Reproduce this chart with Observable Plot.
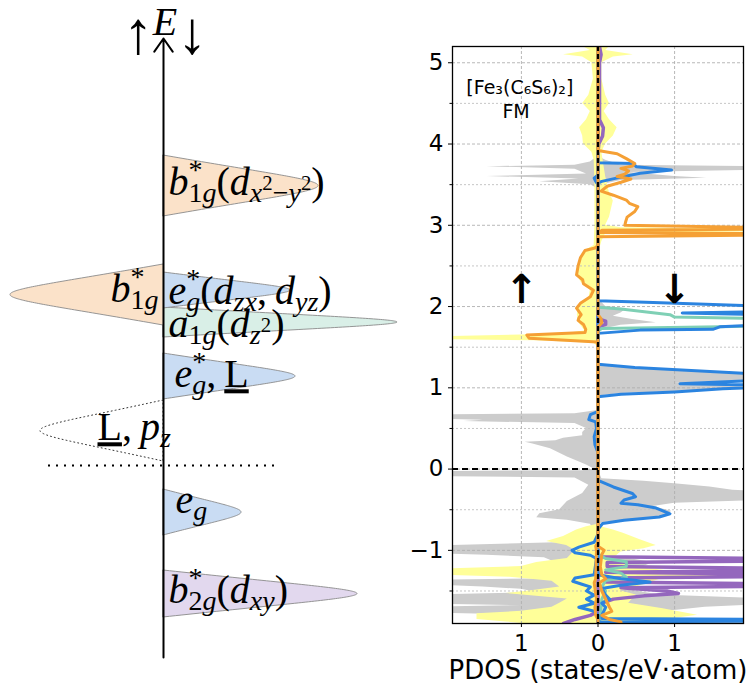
<!DOCTYPE html>
<html><head><meta charset="utf-8">
<script src="https://cdn.jsdelivr.net/npm/d3@7"></script>
<script src="https://cdn.jsdelivr.net/npm/@observablehq/plot@0.6"></script>
<style>
body{margin:0;background:#fff;}
#wrap{position:relative;width:748px;height:690px;overflow:hidden;}
#wrap svg{position:absolute;top:0;}
</style></head><body><div id="wrap"></div>
<script>
// ---------------- Left schematic: energy-level lobes ----------------
const lobeNames   = ["b2g*(dxy)", "eg", "L,pz", "eg*,L", "a1g(dz2)", "eg*(dzx,dyz)", "b1g* up", "b1g*(dx2-y2)"];
const lobeKinds   = ["b2g", "eg", "L", "eg", "a1g", "eg", "b1g", "b1g"];
const lobeCenter  = [-1.285, -0.47, 0.345, 0.89, 1.43, 1.75, 1.705, 2.795];
const lobeHalf    = [0.235, 0.23, 0.305, 0.23, 0.15, 0.18, 0.305, 0.305];
const lobeExtent  = [1.94, 0.78, -1.23, 1.32, 2.34, 1.27, -1.53, 1.55];
const axisEnds    = [-1.92, 4.27];
const fermiSpan   = [-1.15, 1.16];

const headLabels = ["↑", "E", "↓"];
const headX      = [-0.255, 0.015, 0.285];
const headE      = [4.25, 4.43, 4.25];
const headSize   = [60, 40, 60];

const levelLabels = ["b^*_{1g}(d_{x^2−y^2})", "b^*_{1g}", "e^*_g(d_{zx},\u2009d_{yz})", "a_{1g}(d_{z^2})",
                     "e^*_g,\u2009\\L", "\\L,\u2009p_z", "e_g", "b^*_{2g}(d_{xy})"];
const levelX      = [0.05, -0.53, 0.05, 0.05, 0.11, -0.66, 0.12, 0.05];
const levelE      = [2.83, 1.76, 1.74, 1.41, 0.91, 0.38, -0.35, -1.25];

// ---------------- Right: PDOS, [E (eV), states/eV·atom] ----------------
const grayUp = [[5.2,0],[3.85,0],[3.78,0.1],[3.74,0.3],[3.72,1.45],[3.69,0.3],[3.63,0.15],[3.6,1.45],[3.57,0.25],[3.535,0.76],[3.5,0.1],[3.45,0],
 [0.72,0],[0.68,0.3],[0.665,2.3],[0.62,2.3],[0.60,1.5],[0.585,1.75],[0.56,0.3],[0.5,0.15],[0.45,0.2],[0.41,0.2],[0.38,0.45],[0.35,0.55],[0.33,0.95],[0.31,0.85],[0.25,0.62],[0.15,0.4],[0.05,0.15],[0.0,0.05],[-0.02,0.2],[-0.03,2.3],[-0.09,2.3],[-0.11,0.3],[-0.2,0.12],[-0.3,0.2],[-0.4,0.4],[-0.5,0.5],[-0.55,0.76],[-0.6,0.8],[-0.63,0.4],[-0.68,0.1],[-0.75,0.05],[-0.9,0.3],
 [-0.95,2.3],[-1.04,2.3],[-1.06,1.45],[-1.09,0.7],[-1.13,0.6],[-1.16,0.3],[-1.2,0.5],[-1.25,0.4],[-1.3,0.5],[-1.35,0.6],[-1.37,2.3],[-1.42,2.3],[-1.45,1.5],[-1.48,1.0],[-1.52,0.8],[-1.55,2.3],[-1.66,2.3],[-1.68,1.0],[-1.7,2.3],[-1.77,2.3],[-1.8,0.8],[-1.85,0.5],[-1.9,0.4]];
const grayDown = [[5.2,0],[3.85,0],[3.8,0.1],[3.74,0.3],[3.72,2.3],[3.68,2.3],[3.65,0.4],[3.6,1.0],[3.58,1.42],[3.55,0.3],[3.5,0.05],[3.4,0],
 [2.1,0],[2.0,0.1],[1.97,0.37],[1.92,0.3],[1.88,0.2],[1.84,0.45],[1.8,0.76],[1.77,0.3],[1.72,0.05],[1.68,0],
 [1.3,0],[1.28,0.05],[1.24,0.4],[1.2,1.2],[1.16,2.3],[1.09,2.3],[1.06,1.0],[1.03,2.3],[1.0,1.9],[0.97,1.5],[0.93,0.3],[0.9,0],
 [0.0,0],[-0.12,0.05],[-0.15,0.6],[-0.18,1.0],[-0.22,1.46],[-0.26,1.76],[-0.29,2.3],[-0.38,2.3],[-0.42,1.0],[-0.46,0.72],[-0.52,0.96],[-0.58,0.9],[-0.62,0.5],[-0.66,0.05],[-0.7,0],
 [-0.9,0],[-1.05,0.05],[-1.1,0.4],[-1.15,0.72],[-1.2,0.6],[-1.25,0.3],[-1.3,0.5],[-1.35,0.6],[-1.4,0.4],[-1.45,0.3],[-1.5,0.5],[-1.55,0.8],[-1.6,2.3],[-1.66,2.3],[-1.7,1.4],[-1.74,1.0],[-1.78,0.6],[-1.85,0.4],[-1.9,0.3]];
const yellowUp = [[5.2,0.2],[5.15,0.1],[5.1,0.45],[5.07,0.2],[5.0,0.08],[4.8,0.06],[4.6,0.12],[4.5,0.2],[4.4,0.1],[4.3,0.15],[4.2,0.24],[4.1,0.2],[4.0,0.19],[3.9,0.08],[3.8,0.05],[3.5,0.04],[3.0,0.04],[2.75,0.05],[2.7,0.15],[2.6,0.22],[2.4,0.28],[2.3,0.22],[2.2,0.1],[2.1,0.12],[2.0,0.25],[1.9,0.27],[1.8,0.25],[1.7,0.17],[1.66,0.5],[1.625,2.3],[1.595,2.3],[1.58,0.8],[1.55,0.05],[1.5,0],
 [-0.68,0],[-0.71,0.15],[-0.75,0.28],[-0.83,0.45],[-0.89,0.67],[-0.94,0.41],[-1.0,0.3],[-1.05,0.35],[-1.1,0.4],[-1.15,0.8],[-1.2,1.0],[-1.24,2.3],[-1.3,2.3],[-1.33,1.15],[-1.38,0.6],[-1.45,0.5],[-1.5,0.9],[-1.53,1.2],[-1.6,0.4],[-1.65,0.5],[-1.7,0.6],[-1.75,1.0],[-1.78,1.58],[-1.85,1.58],[-1.88,1.2],[-1.9,1.0]];
const yellowDown = [[5.2,0.15],[5.15,0.1],[5.1,0.46],[5.07,0.2],[5.0,0.05],[4.8,0.05],[4.6,0.1],[4.5,0.15],[4.4,0.08],[4.3,0.15],[4.2,0.25],[4.1,0.2],[4.0,0.1],[3.9,0.05],[3.6,0.1],[3.4,0.15],[3.3,0.2],[3.1,0.15],[3.0,0.1],[2.97,0.3],[2.95,2.3],[2.92,2.3],[2.9,0.1],[2.8,0.05],[2.7,0.02],[2.6,0],
 [-0.7,0],[-0.75,0.2],[-0.79,0.33],[-0.87,0.55],[-0.94,0.76],[-0.98,0.6],[-1.02,0.3],[-1.1,0.2],[-1.2,0.4],[-1.26,1.0],[-1.28,2.3],[-1.33,2.3],[-1.36,0.8],[-1.45,0.5],[-1.5,0.3],[-1.55,0.5],[-1.65,0.4],[-1.72,0.85],[-1.8,1.3],[-1.85,0.9],[-1.9,0.6]];
const orangeUp = [[5.2,0],[2.75,0],[2.72,0.04],[2.69,0.17],[2.6,0.23],[2.5,0.26],[2.39,0.28],[2.33,0.2],[2.28,0.19],[2.2,0.06],[2.12,0.1],[2.04,0.23],[1.98,0.28],[1.9,0.22],[1.86,0.25],[1.83,0.26],[1.78,0.19],[1.72,0.16],[1.68,0.17],[1.65,0.93],[1.61,0.9],[1.58,0.3],[1.565,0.01],[1.5,0],
 [-0.9,0],[-0.95,0.03],[-1.0,0.02],[-1.35,0.03],[-1.4,0.05],[-1.6,0.02],[-1.7,0.04],[-1.8,0.03],[-1.85,0],[-1.9,0]];
const orangeDown = [[5.2,0],[3.92,0],[3.88,0.25],[3.82,0.37],[3.76,0.48],[3.73,0.45],[3.7,0.3],[3.67,0.4],[3.63,0.35],[3.6,0.25],[3.57,0.43],[3.53,0.3],[3.48,0.12],[3.42,0.04],[3.37,0.2],[3.31,0.37],[3.27,0.41],[3.23,0.52],[3.17,0.48],[3.1,0.38],[3.04,0.36],[3.0,0.35],[2.97,2.3],[2.955,2.3],[2.94,0.05],[2.91,0.02],[2.895,2.3],[2.88,2.3],[2.86,0],[1.9,0],[1.85,0.04],[1.8,0.05],[1.75,0],
 [-0.95,0],[-1.0,0.08],[-1.05,0.05],[-1.2,0.03],[-1.3,0.05],[-1.35,0.1],[-1.4,0.02],[-1.5,0.05],[-1.7,0.15],[-1.75,0.18],[-1.8,0.05],[-1.85,0.15],[-1.88,0.3],[-1.9,0.3]];
const blueUp = [[5.2,0],[3.62,0],[3.58,0.05],[3.54,0.03],[3.5,0],[0.72,0],[0.7,0.02],[0.67,0.1],[0.61,0.12],[0.58,0.03],[0.5,0.02],[0.4,0.05],[0.3,0.04],[0.2,0],
 [-0.8,0],[-0.9,0.05],[-0.96,0.25],[-1.0,0.34],[-1.03,0.3],[-1.06,0.1],[-1.1,0.02],[-1.3,0.05],[-1.34,0.3],[-1.38,0.33],[-1.42,0.2],[-1.45,0.1],[-1.5,0.15],[-1.55,0.05],[-1.6,0.15],[-1.65,0.05],[-1.7,0.25],[-1.75,0.05],[-1.8,0],[-1.9,0]];
const blueDown = [[5.2,0],[3.77,0],[3.76,0.46],[3.72,0.5],[3.68,0.96],[3.64,0.55],[3.58,0.24],[3.54,0.05],[3.52,0],[2.07,0],[2.05,0.72],[2.0,2.3],[1.94,2.3],[1.92,1.1],[1.9,2.3],[1.78,2.3],[1.75,1.59],[1.72,1.5],[1.71,0.55],[1.67,0],[1.29,0],[1.25,0.48],[1.16,2.3],[1.1,2.3],[1.05,1.07],[1.03,2.3],[1.01,2.3],[0.99,1.63],[0.95,1.0],[0.92,0.3],[0.89,0],
 [-0.14,0],[-0.22,0.2],[-0.3,0.45],[-0.34,0.49],[-0.38,0.34],[-0.42,0.3],[-0.44,0.52],[-0.48,0.76],[-0.55,0.94],[-0.59,0.8],[-0.63,0.34],[-0.67,0.06],[-0.74,0],[-1.3,0],[-1.35,0.3],[-1.39,0.68],[-1.43,0.3],[-1.47,0.05],[-1.55,0.1],[-1.6,0.15],[-1.65,0.05],[-1.7,0.1],[-1.8,0.05],[-1.84,0.05],[-1.85,2.3],[-1.87,2.3],[-1.88,0.02],[-1.9,0]];
const tealDown = [[5.2,0],[1.99,0],[1.97,0.3],[1.9,0.94],[1.87,1.0],[1.85,2.3],[1.77,2.3],[1.75,1.6],[1.73,0.05],[1.7,0],
 [-1.05,0],[-1.1,0.1],[-1.14,0.37],[-1.2,0.37],[-1.24,0.1],[-1.28,0.3],[-1.33,0.37],[-1.37,0.1],[-1.45,0.05],[-1.5,0.1],[-1.6,0.05],[-1.9,0.02]];
const purpleUp = [[5.2,0],[-1.75,0],[-1.8,0.1],[-1.85,0.3],[-1.9,0.45]];
const purpleDown = [[5.2,0.02],[5.1,0.04],[5.0,0.02],[4.3,0.02],[4.2,0.07],[4.1,0.06],[4.0,0.01],[3.9,0],[1.85,0],[1.82,0.1],[1.78,0.1],[1.75,0],
 [-1.05,0],[-1.08,0.05],[-1.1,2.3],[-1.13,2.3],[-1.15,0.12],[-1.2,0.12],[-1.22,2.3],[-1.25,2.3],[-1.27,0.1],[-1.29,2.3],[-1.32,2.3],[-1.34,0.1],[-1.39,0.1],[-1.41,2.3],[-1.44,2.3],[-1.46,0.3],[-1.5,0.9],[-1.53,1.05],[-1.56,0.6],[-1.6,0.2],[-1.65,0.05],[-1.75,0],[-1.9,0]];

const yTicks = [-1, 0, 1, 2, 3, 4, 5];
const yMinor = [-1.5, -0.5, 0.5, 1.5, 2.5, 3.5, 4.5];
const xTicks = [-1, 0, 1];
const insetLines = ["[Fe₃(C₆S₆)₂]", "FM"];
const insetX = [-1.02, -1.07];
const insetE = [4.69, 4.39];
const spinArrows = ["↑", "↓"];
const spinX = [-1.0, 1.0];
const spinE = [2.2, 2.2];
const xLabel = "PDOS (states/eV·atom)";

// ---------------- styles ----------------
const lobeColors = {b1g: "#fbe2c9", eg: "#c9dcf3", a1g: "#d9efe7", b2g: "#e2d8ee"};
const C = {gray: "#cccccc", yellow: "#ffff99", orange: "#f5a035", blue: "#2b84e0", teal: "#7fd0b5", purple: "#9467bd"};

// lobe outline from its parameters (rounded tip)
function lobeShape(i) {
  const pts = [];
  const N = 60;
  for (let k = 0; k <= N; k++) {
    const t = k / N;
    const f = 1 - (1 - t) * (1 - t);
    const off = lobeHalf[i] * Math.sqrt(1 - f) * (1 - 0.39 * f);
    pts.push({x: lobeExtent[i] * f, y1: lobeCenter[i] - off, y2: lobeCenter[i] + off});
  }
  return pts;
}

const wrap = document.getElementById("wrap");

// ---------- right plot ----------
const yFmt = d => d < 0 ? "−" + Math.abs(d) : String(d);
const areaM = (data, s, fill) => Plot.areaX(data, {y: d => d[0], x1: 0, x2: d => s * d[1], fill, curve: "linear", clip: true});
const lineM = (data, s, stroke, w) => Plot.line(data, {x: d => s * d[1], y: d => d[0], stroke, strokeWidth: w, curve: "linear", clip: true});

const right = Plot.plot({
  width: 358, height: 690,
  marginLeft: 62, marginRight: 5, marginTop: 46, marginBottom: 67,
  x: {domain: [-1.9, 1.9]},
  y: {domain: [-1.9, 5.2]},
  style: {fontFamily: "DejaVu Sans", fontSize: "23px", color: "black", background: "transparent", overflow: "visible"},
  marks: [
    areaM(grayUp, -1, C.gray), areaM(grayDown, 1, C.gray),
    areaM(yellowUp, -1, C.yellow), areaM(yellowDown, 1, C.yellow),
    Plot.gridY(yTicks, {stroke: "#b0b0b0", strokeOpacity: 1, strokeWidth: 0.9, strokeDasharray: "3,2"}),
    Plot.gridY(yMinor, {stroke: "#c0c0c0", strokeOpacity: 1, strokeWidth: 0.9, strokeDasharray: "2,2"}),
    Plot.gridX(xTicks, {stroke: "#b0b0b0", strokeOpacity: 1, strokeWidth: 0.9, strokeDasharray: "3,2"}),
    lineM(purpleUp, -1, C.purple, 3.5), lineM(purpleDown, 1, C.purple, 3.5),
    lineM(tealDown, 1, C.teal, 3),
    lineM(blueUp, -1, C.blue, 3), lineM(blueDown, 1, C.blue, 3),
    lineM(orangeUp, -1, C.orange, 3), lineM(orangeDown, 1, C.orange, 3),
    Plot.ruleY([0], {stroke: "black", strokeWidth: 2, strokeDasharray: "6,4"}),
    Plot.ruleX([0], {stroke: "black", strokeWidth: 2.2, strokeDasharray: "5,3"}),
    Plot.frame({stroke: "black", strokeWidth: 1.3}),
    Plot.axisY(yTicks, {tickSize: 4, tickPadding: 5, tickFormat: yFmt, fontSize: 23, label: null}),
    Plot.axisY(yMinor, {tickSize: 2.5, tickFormat: () => "", label: null}),
    Plot.axisX(xTicks, {tickSize: 4, tickPadding: 7, tickFormat: d => String(Math.abs(d)), fontSize: 23, label: null}),
    Plot.text([xLabel], {frameAnchor: "bottom", lineAnchor: "middle", dy: 47, fontSize: 26}),
    Plot.text(insetLines, {x: (d, i) => insetX[i], y: (d, i) => insetE[i], text: d => d, fontSize: 19}),
    Plot.text(spinArrows, {x: (d, i) => spinX[i], y: (d, i) => spinE[i], text: d => d, fontSize: 40, fontWeight: "bold"})
  ]
});
right.style.left = "390px";

// ---------- left schematic ----------
const lobeMarks = lobeNames.map((n, i) => {
  const kind = lobeKinds[i];
  if (kind === "L") return Plot.areaY(lobeShape(i), {x: "x", y1: "y1", y2: "y2", fill: "none", stroke: "#333", strokeWidth: 1, strokeDasharray: "1,3"});
  return Plot.areaY(lobeShape(i), {x: "x", y1: "y1", y2: "y2", fill: lobeColors[kind], stroke: "#8a8a8a", strokeWidth: 0.9});
});
const left = Plot.plot({
  width: 420, height: 690, margin: 0,
  x: {domain: [-1.63, 2.57], axis: null},
  y: {domain: [-2.25, 4.65], axis: null},
  style: {background: "transparent", overflow: "visible", color: "black"},
  marks: [
    ...lobeMarks,
    Plot.ruleY([0], {x1: fermiSpan[0], x2: fermiSpan[1], stroke: "black", strokeWidth: 2, strokeDasharray: "2,6"}),
    Plot.arrow([0], {x1: 0, x2: 0, y1: axisEnds[0], y2: axisEnds[1], stroke: "black", strokeWidth: 2, headLength: 12, headAngle: 70}),
    Plot.text(headLabels, {x: (d, i) => headX[i], y: (d, i) => headE[i], text: d => d, fontSize: 40, fontFamily: "Liberation Serif"}),
    Plot.text(levelLabels, {x: (d, i) => levelX[i], y: (d, i) => levelE[i], text: d => d, textAnchor: "start", fontSize: 40, fontFamily: "Liberation Serif"})
  ]
});
left.style.left = "0px";
wrap.appendChild(left);
wrap.appendChild(right);

// ---------- math typesetting of left labels ----------
const SIZES = [1, 0.7, 0.52];
function parseMath(src) {
  const runs = []; let i = 0;
  const push = (text, level, shift, italic, underline) => runs.push({text, size: SIZES[level], shift, italic, underline, back: false});
  function atom(level, shift) {
    const c = src[i];
    if (c === "\\") { i++; push(src[i], level, shift, false, true); i++; return; }
    push(c, level, shift, /[A-Za-z]/.test(c), false); i++;
  }
  function seq(level, shift) {
    let prevSup = -1;
    while (i < src.length) {
      const c = src[i];
      if (c === "}") { i++; return; }
      if (c === "^" || c === "_") {
        i++;
        const up = c === "^";
        const nl = Math.min(level + 1, 2);
        const ns = shift + (up ? 0.42 : -0.16) * SIZES[level];
        const start = runs.length;
        if (src[i] === "{") { i++; seq(nl, ns); } else atom(nl, ns);
        if (!up && prevSup >= 0 && runs[start]) { runs[start].back = true; runs[start].backFrom = prevSup; }
        prevSup = up ? start : -1;
        continue;
      }
      prevSup = -1;
      atom(level, shift);
    }
  }
  seq(0, 0);
  return runs;
}
function renderMath(textEl, src, px) {
  const runs = parseMath(src);
  while (textEl.firstChild) textEl.removeChild(textEl.firstChild);
  textEl.style.whiteSpace = "pre";
  let cur = 0; const spans = [];
  runs.forEach(r => {
    const ts = document.createElementNS("http://www.w3.org/2000/svg", "tspan");
    ts.textContent = r.text;
    ts.setAttribute("font-size", (px * r.size).toFixed(2));
    ts.setAttribute("font-style", r.italic ? "italic" : "normal");
    if (r.underline) ts.setAttribute("text-decoration", "underline");
    const dy = -(r.shift - cur) * px;
    if (Math.abs(dy) > 0.01) ts.setAttribute("dy", dy.toFixed(2));
    cur = r.shift;
    textEl.appendChild(ts); spans.push(ts);
  });
  runs.forEach((r, k) => {
    if (r.back) {
      let w = 0;
      for (let j = r.backFrom; j < k; j++) w += spans[j].getComputedTextLength();
      spans[k].setAttribute("dx", (-w).toFixed(2));
    }
  });
}
const textGroups = left.querySelectorAll('g[aria-label="text"]');
textGroups[0].querySelectorAll("text").forEach((t, i) => renderMath(t, headLabels[i], headSize[i]));
textGroups[1].querySelectorAll("text").forEach((t, i) => renderMath(t, levelLabels[i], 40));
</script></body></html>
